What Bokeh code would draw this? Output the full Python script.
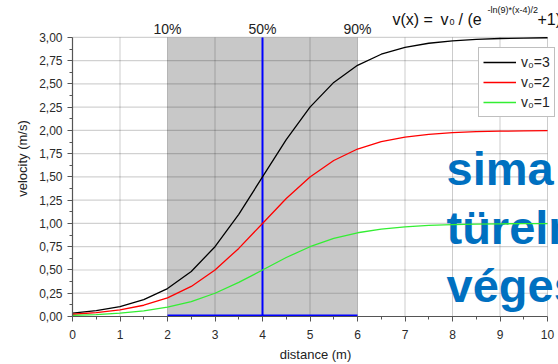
from bokeh.plotting import figure
from bokeh.models import (Label, Range1d, FixedTicker, CustomJSTickFormatter,
                          Legend, LegendItem)
from bokeh.embed import file_html
from bokeh.resources import INLINE

# ---- data ----
distance = [0, 0.5, 1, 1.5, 2, 2.5, 3, 3.5, 4, 4.5, 5, 5.5, 6, 6.5, 7, 7.5, 8, 8.5, 9, 9.5, 10]
v0_3 = [0.037, 0.063, 0.107, 0.181, 0.300, 0.484, 0.750, 1.098, 1.500, 1.902, 2.250,
        2.516, 2.700, 2.819, 2.893, 2.937, 2.963, 2.979, 2.988, 2.993, 2.996]
v0_2 = [0.024, 0.042, 0.071, 0.121, 0.200, 0.323, 0.500, 0.732, 1.000, 1.268, 1.500,
        1.677, 1.800, 1.880, 1.929, 1.958, 1.976, 1.986, 1.992, 1.995, 1.997]
v0_1 = [0.012, 0.021, 0.036, 0.060, 0.100, 0.161, 0.250, 0.366, 0.500, 0.634, 0.750,
        0.839, 0.900, 0.940, 0.964, 0.979, 0.988, 0.993, 0.996, 0.998, 0.999]
series_labels = ["v\u2080=3", "v\u2080=2", "v\u2080=1"]
band_left = [2]
band_right = [6]
midpoint = [4]
pct_positions = [2, 4, 6]
pct_labels = ["10%", "50%", "90%"]
x_ticks = list(range(0, 11))
y_ticks = [i * 0.25 for i in range(13)]
overlay_words = ["sima", "t\u00fcrelm", "v\u00e9ges"]

X0, X1, Y0, Y1 = 0, 10, 0, 3
FONT = "Liberation Sans"

W, H = 558, 364
LEFT, BOTTOM = 72, 47
FRAME_W, FRAME_H = 475.0, 280.0   # pixel size of the 0..10 x 0..3 data box
x_end = X0 + (W - LEFT) * (X1 - X0) / FRAME_W
y_end = Y0 + (H - BOTTOM) * (Y1 - Y0) / FRAME_H

p = figure(width=W, height=H, output_backend="svg", toolbar_location=None,
           x_range=Range1d(X0, x_end), y_range=Range1d(Y0, y_end),
           min_border_left=LEFT, min_border_right=0, min_border_top=0,
           min_border_bottom=BOTTOM, background_fill_color="white",
           border_fill_color="white")
p.outline_line_color = None
p.xgrid.visible = False
p.ygrid.visible = False

# picture-pixel helpers (data box: x 72..547, y 37..317)
def sx(px):
    return X0 + (px - LEFT) * (X1 - X0) / FRAME_W

def sy(py):
    return Y0 + (H - BOTTOM - py) * (Y1 - Y0) / FRAME_H

# shaded band
p.quad(left=band_left, right=band_right, bottom=[Y0], top=[Y1],
       fill_color="#c8c8c8", line_color=None, level="image")

# grid lines limited to the data box
p.segment(x0=x_ticks, y0=[Y0] * len(x_ticks), x1=x_ticks, y1=[Y1] * len(x_ticks),
          line_color="#000000", line_alpha=0.2, line_width=1, level="image")
p.segment(x0=[X0] * len(y_ticks), y0=y_ticks, x1=[X1] * len(y_ticks), y1=y_ticks,
          line_color="#000000", line_alpha=0.18, line_width=1.2, level="image")

# axes
p.xaxis.ticker = FixedTicker(ticks=x_ticks, minor_ticks=[t + 0.5 for t in x_ticks[:-1]])
p.yaxis.ticker = FixedTicker(ticks=y_ticks, minor_ticks=[t + 0.125 for t in y_ticks[:-1]])
p.yaxis.formatter = CustomJSTickFormatter(code="return tick.toFixed(2).replace('.', ',');")
p.xaxis.bounds = (X0, X1)
p.yaxis.bounds = (Y0, Y1)
p.xaxis.axis_label = "distance (m)"
p.yaxis.axis_label = "velocity (m/s)"
for ax in (p.xaxis, p.yaxis):
    ax.axis_line_color = "#555555"
    ax.axis_line_width = 1.2
    ax.major_tick_line_color = "#555555"
    ax.minor_tick_line_color = "#555555"
    ax.major_tick_in = 0
    ax.major_tick_out = 5
    ax.minor_tick_in = 0
    ax.minor_tick_out = 3
    ax.major_label_text_font = FONT
    ax.major_label_text_font_size = "12px"
    ax.major_label_text_color = "#2a2a2a"
    ax.axis_label_text_font = FONT
    ax.axis_label_text_font_size = "13px"
    ax.axis_label_text_font_style = "normal"
    ax.axis_label_text_color = "#222222"
p.xaxis.major_label_standoff = 8
p.yaxis.major_label_standoff = 5
p.yaxis.axis_label_standoff = 6
p.xaxis.axis_label_standoff = 5

# overlay words (above grid, below curves)
for word, base in zip(overlay_words, [169, 228, 286]):
    p.add_layout(Label(x=sx(446), y=sy(base), text=word, text_font=FONT,
                       text_font_style="bold", text_font_size="47px",
                       text_color="#0070c0", text_baseline="alphabetic",
                       level="underlay"))

# blue markers
p.line([midpoint[0], midpoint[0]], [Y0, Y1], line_color="#0000ff", line_width=2)
p.line([band_left[0], band_right[0]], [Y0, Y0], line_color="#0000ff", line_width=4)

# curves
r3 = p.line(distance, v0_3, line_color="#000000", line_width=1.3)
r2 = p.line(distance, v0_2, line_color="#ff0000", line_width=1.3)
r1 = p.line(distance, v0_1, line_color="#33ee33", line_width=1.3)

legend = Legend(items=[LegendItem(label=series_labels[0], renderers=[r3]),
                       LegendItem(label=series_labels[1], renderers=[r2]),
                       LegendItem(label=series_labels[2], renderers=[r1])],
                location=(406, 199), label_text_font=FONT,
                label_text_font_size="14px", label_text_color="#222222",
                glyph_width=33, glyph_height=20, label_height=20,
                label_standoff=5, spacing=0, padding=4, margin=0,
                border_line_color="#808080", border_line_width=1,
                background_fill_color="white", background_fill_alpha=1.0)
p.add_layout(legend, "center")

# percentage labels above the data box
for xp, txt in zip(pct_positions, pct_labels):
    p.add_layout(Label(x=xp, y=sy(29), text=txt, text_font=FONT,
                       text_font_size="14px", text_color="#222222",
                       text_align="center", text_baseline="alphabetic"))

# formula title, piece by piece (subscript and superscript)
title_parts = [
    ("v(x)", 392, 19, "16px"),
    ("=", 423, 19, "16px"),
    ("v", 440, 19, "16px"),
    ("0", 449, 22, "9px"),
    ("/", 458, 19, "16px"),
    ("(e", 467, 19, "16px"),
    ("-ln(9)*(x-4)/2", 487, 10, "9px"),
    ("+1)", 537, 19, "16px"),
]
for txt, px, py, fs in title_parts:
    p.add_layout(Label(x=sx(px), y=sy(py), text=txt, text_font=FONT,
                       text_font_size=fs, text_color="#111111",
                       text_baseline="alphabetic"))

open("out.html", "w").write(file_html(p, INLINE))
